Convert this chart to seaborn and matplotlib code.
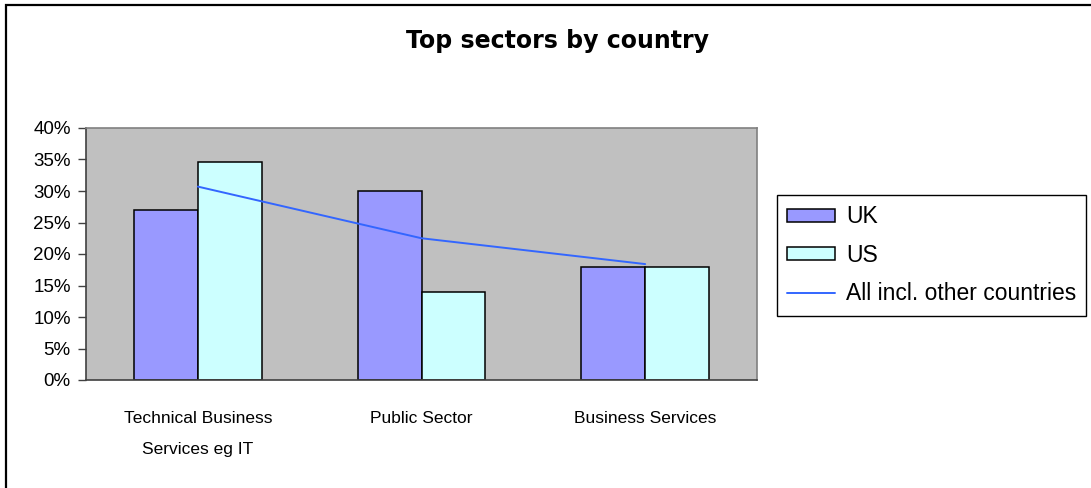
import numpy as np
import pandas as pd
import seaborn as sns
import matplotlib.pyplot as plt
from matplotlib.patches import Patch, Rectangle
from matplotlib.lines import Line2D
from matplotlib.ticker import PercentFormatter

# data (share of respondents)
sectors = ["Technical Business\nServices eg IT", "Public Sector", "Business Services"]
uk_share = [0.27, 0.30, 0.18]
us_share = [0.346, 0.139, 0.18]
all_share = [0.307, 0.225, 0.184]
countries = ["UK", "US"]

UK_COLOR = "#9999FF"
US_COLOR = "#CCFFFF"
LINE_COLOR = "#3366FF"

sns.set_theme(style="white")
plt.rcParams["font.family"] = ["Liberation Sans", "DejaVu Sans"]
plt.rcParams["text.color"] = "black"
plt.rcParams["xtick.color"] = "black"
plt.rcParams["ytick.color"] = "black"

df = pd.DataFrame({
    "sector": sectors * 2,
    "country": ["UK"] * 3 + ["US"] * 3,
    "share": uk_share + us_share,
})

fig = plt.figure(figsize=(10.91, 4.88), dpi=100)
ax = fig.add_axes([86 / 1091, 108 / 488, 671 / 1091, 252 / 488])

sns.barplot(data=df, x="sector", y="share", hue="country", order=sectors,
            hue_order=countries, palette=[UK_COLOR, US_COLOR], width=0.57,
            gap=0, edgecolor="black", linewidth=1.1, saturation=1, ax=ax)
sns.lineplot(x=np.arange(len(sectors)), y=all_share, color=LINE_COLOR, lw=1.4, ax=ax)
if ax.get_legend() is not None:
    ax.get_legend().remove()

# plot area: grey background, excel-ish frame
ax.set_facecolor("#C0C0C0")
ax.set_xlim(-0.5, 2.5)
ax.set_ylim(0, 0.40)
ax.set_yticks(np.arange(0, 0.401, 0.05))
ax.yaxis.set_major_formatter(PercentFormatter(1, decimals=0))
ax.set_xlabel("")
ax.set_ylabel("")
for side in ["top", "right"]:
    ax.spines[side].set_color("#808080")
    ax.spines[side].set_linewidth(1.2)
for side in ["left", "bottom"]:
    ax.spines[side].set_color("#404040")
    ax.spines[side].set_linewidth(1.2)

# category ticks sit on the boundaries, labels in the middle
ax.set_xticks(np.arange(len(sectors)))
ax.set_xticklabels(sectors, fontsize=12.5, linespacing=2.4, va="top", color="black")
ax.set_xticks([-0.5, 0.5, 1.5, 2.5], minor=True)
ax.tick_params(axis="x", which="major", length=0, pad=22)
ax.tick_params(axis="x", which="minor", direction="inout", length=10, width=1, color="#404040")
ax.tick_params(axis="y", direction="out", length=6, width=1, color="#404040",
               pad=5, labelsize=13.5, labelcolor="black", left=True)

fig.text(558 / 1091, 1 - 48 / 488, "Top sectors by country", ha="center", va="baseline",
         fontsize=17, fontweight="bold", family="DejaVu Sans", color="black")

handles = [
    Patch(facecolor=UK_COLOR, edgecolor="black", linewidth=1.1, label="UK"),
    Patch(facecolor=US_COLOR, edgecolor="black", linewidth=1.1, label="US"),
    Line2D([], [], color=LINE_COLOR, lw=1.4, label="All incl. other countries"),
]
leg = fig.legend(handles=handles, loc="upper left", bbox_to_anchor=(777 / 1091, 1 - 195 / 488),
                 fontsize=16.5, frameon=True, fancybox=False, framealpha=1,
                 edgecolor="black", handlelength=2.1, handleheight=0.5,
                 handletextpad=0.45, labelspacing=0.68, borderpad=0.45, borderaxespad=0)
leg.get_frame().set_linewidth(1.0)

# chart-area border (only top and left visible, the rest runs off the image)
fig.add_artist(Rectangle((6 / 1091, -0.2), 2.0, 1.2 - 5 / 488, transform=fig.transFigure,
                         fill=False, edgecolor="black", linewidth=1.6))

plt.savefig("out.png", dpi=100, facecolor="white")
